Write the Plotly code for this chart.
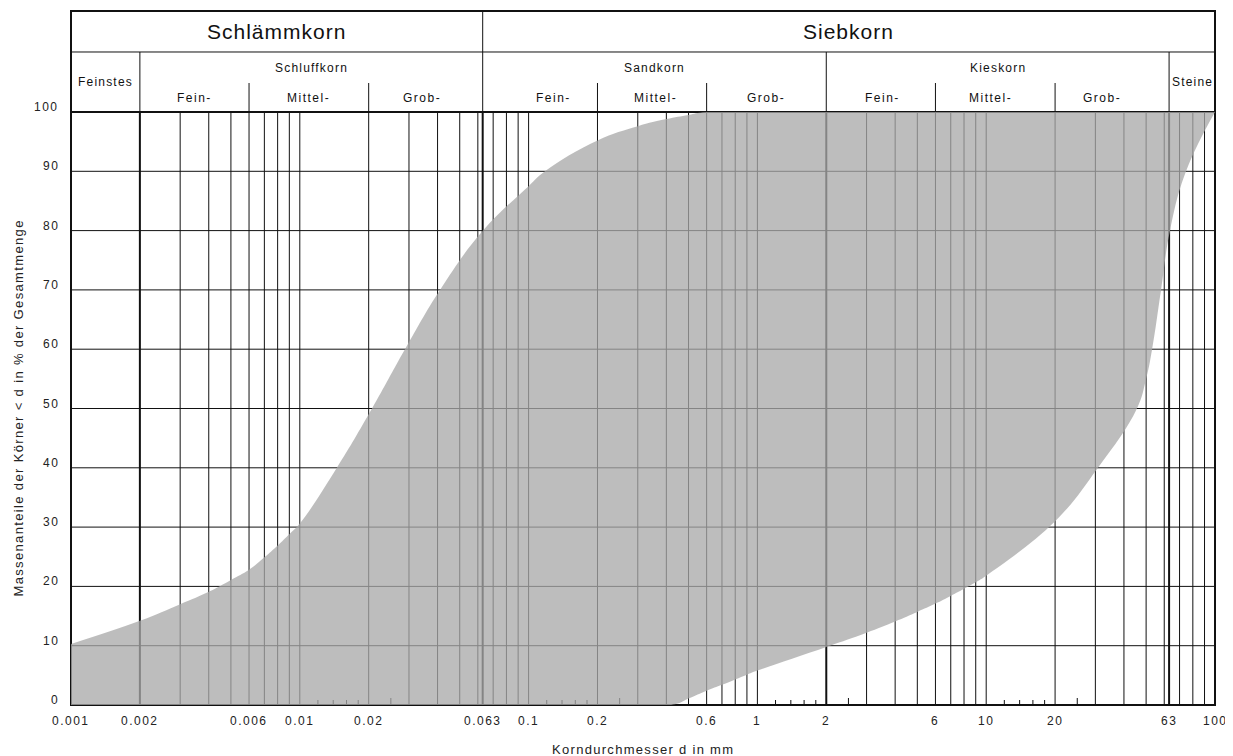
import numpy as np
import plotly.graph_objects as go

# ---------------- data ----------------
upper_d = [0.001, 0.002, 0.003, 0.004, 0.005, 0.006, 0.007, 0.008, 0.009, 0.01,
           0.01452, 0.02068, 0.02883, 0.04101, 0.0632, 0.1, 0.1179, 0.2, 0.3, 0.4, 0.5, 0.6, 100]
upper_p = [10.3, 14.2, 17.0, 19.1, 21.1, 22.8, 24.9, 26.9, 28.8, 30.6,
           40, 50, 60, 70, 80, 87.5, 90, 95.2, 97.6, 98.8, 99.5, 100, 100]

lower_d = [0.001, 0.42, 0.5, 0.6, 0.7, 0.8, 0.9, 1, 2, 3, 4, 5, 6, 7, 8, 9, 10,
           20, 30.8, 45.6, 50, 53.1, 58.1, 63.6, 74.7, 100]
lower_p = [0, 0, 1.1, 2.4, 3.4, 4.3, 5.1, 5.8, 9.8, 12.2, 14.1, 15.7, 17.1, 18.4, 19.6, 20.7, 21.8,
           31, 40, 50, 55, 60, 70, 80, 90, 100]

x_tick_vals = [0.001, 0.002, 0.006, 0.01, 0.02, 0.063, 0.1, 0.2, 0.6, 1, 2, 6, 10, 20, 63, 100]
x_tick_text = ["0.001", "0.002", "0.006", "0.01", "0.02", "0.063", "0.1", "0.2", "0.6",
               "1", "2", "6", "10", "20", "63", "100"]
y_tick_vals = [0, 10, 20, 30, 40, 50, 60, 70, 80, 90, 100]

grid_thick = [0.002, 0.063, 2, 63]
grid_thin = [0.003, 0.004, 0.005, 0.006, 0.007, 0.008, 0.009, 0.01,
             0.02, 0.03, 0.04, 0.05, 0.06, 0.07, 0.08, 0.09, 0.1,
             0.2, 0.3, 0.4, 0.5, 0.6, 0.7, 0.8, 0.9, 1,
             3, 4, 5, 6, 7, 8, 9, 10,
             20, 30, 40, 50, 60, 70, 80, 90]
small_ticks = [0.012, 0.014, 0.016, 0.018, 0.12, 0.14, 0.16, 0.18,
               1.2, 1.4, 1.6, 1.8, 12, 14, 16, 18]
mid_ticks = [0.025, 0.25, 2.5, 25]

header1 = [("Schlämmkorn", 0.001, 0.063), ("Siebkorn", 0.063, 100)]
header2 = [("Schluffkorn", 0.002, 0.063), ("Sandkorn", 0.063, 2), ("Kieskorn", 2, 63)]
header2_side = [("Feinstes", 0.001, 0.002), ("Steine", 63, 100)]
header3 = [("Fein-", 0.002, 0.006), ("Mittel-", 0.006, 0.02), ("Grob-", 0.02, 0.063),
           ("Fein-", 0.063, 0.2), ("Mittel-", 0.2, 0.6), ("Grob-", 0.6, 2),
           ("Fein-", 2, 6), ("Mittel-", 6, 20), ("Grob-", 20, 63)]
header3_xshift = [0, 0, -4, 13, 3, 0, 2, -5, -10]
header2_dividers = [0.002, 2, 63]
header1_dividers = [0.063]
header3_dividers = [0.006, 0.02, 0.2, 0.6, 6, 20]

x_title = "Korndurchmesser d in mm"
y_title = "Massenanteile der Körner < d in % der Gesamtmenge"

# ---------------- layout constants ----------------
FONT = "Liberation Sans, Arial, sans-serif"
Y_TOP = 1.1703      # top border of header
Y_MID = 1.1012      # divider between header rows
Y_SUB = 1.0489      # start of sub-dividers (Fein/Mittel/Grob)
LINE = "#111111"
PLOT_H = 593


def sp(text, spacing):
    return f'<span style="letter-spacing:{spacing}px">{text}</span>'


fig = go.Figure()

fig.add_trace(go.Scatter(x=lower_d, y=lower_p, mode="lines",
                         line=dict(width=0, shape="spline", smoothing=1.2),
                         hoverinfo="skip", showlegend=False))
fig.add_trace(go.Scatter(x=upper_d, y=upper_p, mode="lines",
                         line=dict(width=0, shape="spline", smoothing=1.2),
                         fill="tonexty", fillcolor="rgba(168,168,168,0.76)",
                         hoverinfo="skip", showlegend=False))

shapes = []


def vline(v, y0, y1, width):
    return dict(type="line", xref="x", yref="paper", x0=v, x1=v, y0=y0, y1=y1,
                line=dict(color=LINE, width=width), layer="below")


# horizontal grid
for v in y_tick_vals[1:-1]:
    shapes.append(dict(type="line", xref="paper", yref="y", x0=0, x1=1, y0=v, y1=v,
                       line=dict(color=LINE, width=1), layer="below"))
# vertical grid
for v in grid_thin:
    shapes.append(vline(v, 0, 1, 1))
for v in grid_thick:
    shapes.append(vline(v, 0, 1, 2))
# header dividers
for v in header3_dividers:
    shapes.append(vline(v, 1, Y_SUB, 1))
for v in header2_dividers:
    shapes.append(vline(v, 1, Y_MID, 1))
for v in header1_dividers:
    shapes.append(vline(v, 1, Y_TOP, 1))
# ticks at bottom
for v in small_ticks:
    shapes.append(vline(v, 0, 5 / PLOT_H, 1))
for v in mid_ticks:
    shapes.append(vline(v, 0, 7 / PLOT_H, 1))
# header row divider and top of data area
shapes.append(dict(type="line", xref="paper", yref="paper", x0=0, x1=1, y0=Y_MID, y1=Y_MID,
                   line=dict(color=LINE, width=1), layer="below"))
shapes.append(dict(type="line", xref="paper", yref="paper", x0=0, x1=1, y0=1, y1=1,
                   line=dict(color=LINE, width=2), layer="below"))
# outer border
shapes.append(dict(type="rect", xref="paper", yref="paper", x0=0, x1=1, y0=0, y1=Y_TOP,
                   line=dict(color=LINE, width=2), layer="below"))

annotations = []
lg = np.log10


def center(a, b):
    return (lg(a) + lg(b)) / 2


def ann(text, x, y, size, color="#111", **kw):
    d = dict(text=text, x=x, y=y, showarrow=False, xanchor="center", yanchor="middle",
             font=dict(family=FONT, size=size, color=color))
    d.update(kw)
    return d


for t, a, b in header1:
    annotations.append(ann(sp(t, 1), center(a, b), (Y_TOP + Y_MID) / 2, 21,
                           xref="x", yref="paper"))
for t, a, b in header2:
    annotations.append(ann(sp(t, 1.2), center(a, b), 1.0742, 12, xref="x", yref="paper"))
for t, a, b in header2_side:
    annotations.append(ann(sp(t, 1.2), center(a, b), (1 + Y_MID) / 2, 12,
                           xref="x", yref="paper"))
for (t, a, b), dx in zip(header3, header3_xshift):
    annotations.append(ann(sp(t, 1.5), center(a, b), 1.0236, 12, xref="x", yref="paper",
                           xshift=dx))

for v, t in zip(x_tick_vals, x_tick_text):
    annotations.append(ann(sp(t, 1.5), lg(v), 0, 12, color="#222",
                           xref="x", yref="paper", yshift=-16))
for v in y_tick_vals:
    annotations.append(ann(sp(str(v), 1.5), 0, v, 12, color="#222",
                           xref="paper", yref="y", xshift=-10, yshift=5, xanchor="right"))

annotations.append(ann(sp(x_title, 1.3), 0.5, 0, 13, color="#222",
                       xref="paper", yref="paper", yshift=-44))
annotations.append(ann(sp(y_title, 1.35), 0, 0.5, 13, color="#222",
                       xref="paper", yref="paper", xshift=-53, textangle=-90))

# the page body adds an 8px margin; the figure is sized to compensate
fig.update_layout(
    width=1225, height=748,
    margin=dict(l=63, r=18, t=104, b=51),
    paper_bgcolor="white", plot_bgcolor="white",
    xaxis=dict(type="log", range=[-3, 2], showgrid=False, zeroline=False,
               showticklabels=False, ticks="", showline=False),
    yaxis=dict(range=[0, 100], showgrid=False, zeroline=False,
               showticklabels=False, ticks="", showline=False),
    shapes=shapes, annotations=annotations,
    showlegend=False,
)

fig.write_html("out.html")
